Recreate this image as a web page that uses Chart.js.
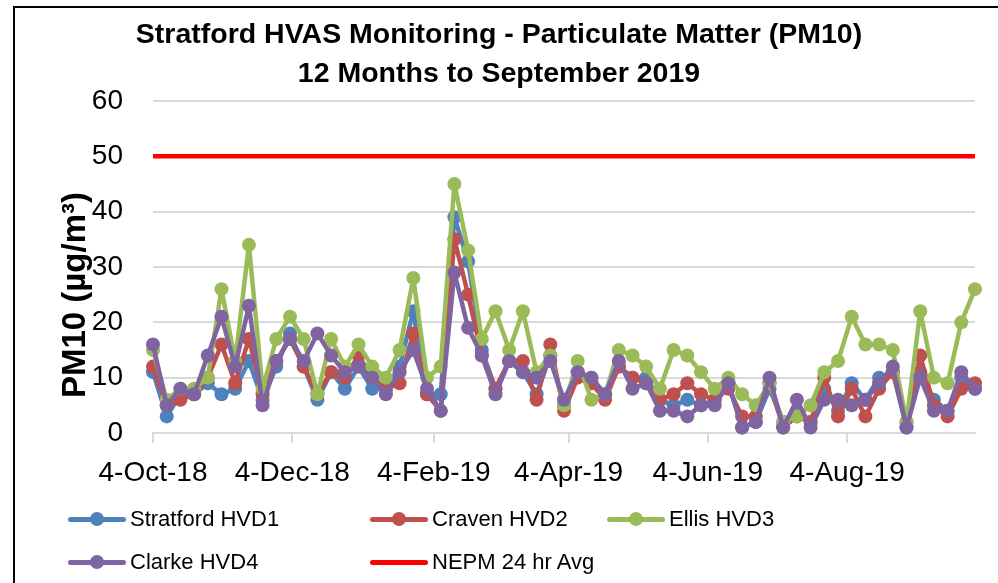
<!DOCTYPE html>
<html>
<head>
<meta charset="utf-8">
<script src="https://cdn.jsdelivr.net/npm/chart.js@4.4.1/dist/chart.umd.min.js"></script>
<style>
html,body{margin:0;padding:0;background:#fff;}
#wrap{position:relative;width:998px;height:583px;overflow:hidden;font-family:"Liberation Sans",Arial,sans-serif;color:#000;}
#frame{position:absolute;left:13px;top:6px;width:1000px;height:600px;border-left:2px solid #000;border-top:2px solid #000;box-sizing:border-box;}
#c{position:absolute;left:0;top:0;}
.title{position:absolute;left:0;width:998px;text-align:center;font-weight:bold;font-size:28.5px;line-height:32px;white-space:nowrap;}
#ytitle{position:absolute;left:74px;top:295px;transform:translate(-50%,-50%) rotate(-90deg);font-weight:bold;font-size:33px;white-space:nowrap;line-height:36px;}
.leg{position:absolute;height:30px;display:flex;align-items:center;font-size:22px;white-space:nowrap;}
.sw{position:relative;width:58px;height:30px;margin-right:4px;}
.sw .ln{position:absolute;left:0;right:0;top:13px;height:5px;border-radius:3px;}
.sw .dot{position:absolute;left:22px;top:8px;width:14px;height:14px;border-radius:50%;}
</style>
</head>
<body>
<div id="wrap">
  <canvas id="c" width="998" height="583"></canvas>
  <div id="frame"></div>
  <div class="title" style="top:17px">Stratford HVAS Monitoring - Particulate Matter (PM10)</div>
  <div class="title" style="top:56px">12 Months to September 2019</div>
  <div id="ytitle">PM10 (µg/m³)</div>
  <div id="legend"></div>
</div>
<script>
// ---- data ----
const sampleDates = [
  '2018-10-04','2018-10-10','2018-10-16','2018-10-22','2018-10-28','2018-11-03','2018-11-09','2018-11-15',
  '2018-11-21','2018-11-27','2018-12-03','2018-12-09','2018-12-15','2018-12-21','2018-12-27','2019-01-02',
  '2019-01-08','2019-01-14','2019-01-20','2019-01-26','2019-02-01','2019-02-07','2019-02-13','2019-02-19',
  '2019-02-25','2019-03-03','2019-03-09','2019-03-15','2019-03-21','2019-03-27','2019-04-02','2019-04-08',
  '2019-04-14','2019-04-20','2019-04-26','2019-05-02','2019-05-08','2019-05-14','2019-05-20','2019-05-26',
  '2019-06-01','2019-06-07','2019-06-13','2019-06-19','2019-06-25','2019-07-01','2019-07-07','2019-07-13',
  '2019-07-19','2019-07-25','2019-07-31','2019-08-06','2019-08-12','2019-08-18','2019-08-24','2019-08-30',
  '2019-09-05','2019-09-11','2019-09-17','2019-09-23','2019-09-29'
];
const stratfordHVD1 = [11,3,7,7,9,7,8,13,6,12,18,12,6,11,8,12,8,8,12,22,7,7,39,31,15,8,13,11,7,14,5,11,10,7,12,10,10,6,5,6,5,6,9,1,2,8,2,4,2,8,4,9,6,10,11,1,11,6,4,10,8];
const cravenHVD2    = [12,5,6,7,10,16,9,17,7,13,17,12,7,11,10,14,10,8,9,18,7,4,35,25,14,8,13,13,6,16,4,10,9,6,12,10,9,6,7,9,7,6,8,3,3,9,1,3,2,10,3,8,3,8,11,2,14,5,3,8,9];
const ellisHVD3     = [15,6,8,8,10,26,13,34,8,17,21,17,7,17,12,16,12,10,15,28,10,12,45,33,17,22,15,22,11,14,5,13,6,7,15,14,12,8,15,14,11,8,10,7,5,9,2,3,5,11,13,21,16,16,15,2,22,10,9,20,26];
const clarkeHVD4    = [16,5,8,7,14,21,12,23,5,13,17,13,18,14,11,12,10,7,11,15,8,4,29,19,14,7,13,11,10,13,6,11,10,7,13,8,9,4,4,3,5,5,9,1,2,10,1,6,1,6,6,5,6,9,12,1,10,4,4,11,8];
const nepmLimit = 50;
const axisStart = '2018-10-04';
const axisEnd   = '2019-09-29';
const tickDates  = ['2018-10-04','2018-12-04','2019-02-04','2019-04-04','2019-06-04','2019-08-04'];
const tickLabels = ['4-Oct-18','4-Dec-18','4-Feb-19','4-Apr-19','4-Jun-19','4-Aug-19'];
const seriesNames = ['Stratford HVD1','Craven HVD2','Ellis HVD3','Clarke HVD4','NEPM 24 hr Avg'];
const seriesColors = ['#4F81BD','#C0504D','#9BBB59','#8064A2','#FF0000'];

// ---- helpers ----
function dayNum(s){ return (Date.parse(s+'T00:00:00Z') - Date.parse(axisStart+'T00:00:00Z'))/86400000; }
const xs = sampleDates.map(dayNum);
function pts(vals){ return vals.map((v,i)=>({x:xs[i], y:v})); }
const FONT = '"Liberation Sans", Arial, sans-serif';

function series(idx, vals, order){
  return {
    label: seriesNames[idx], data: pts(vals), order: order, clip: false,
    borderColor: seriesColors[idx], backgroundColor: seriesColors[idx],
    borderWidth: 4.5, borderJoinStyle: 'round', borderCapStyle: 'round',
    pointRadius: 7, pointHoverRadius: 7,
    pointBackgroundColor: seriesColors[idx], pointBorderWidth: 0,
    tension: 0, fill: false
  };
}

new Chart(document.getElementById('c'), {
  type: 'line',
  data: {
    datasets: [
      series(0, stratfordHVD1, 4),
      series(1, cravenHVD2, 3),
      series(2, ellisHVD3, 2),
      series(3, clarkeHVD4, 1),
      {
        label: seriesNames[4], order: 0, clip: false,
        data: [{x: dayNum(axisStart), y: nepmLimit}, {x: dayNum(axisEnd), y: nepmLimit}],
        borderColor: seriesColors[4], backgroundColor: seriesColors[4],
        borderWidth: 4.5, pointRadius: 0, tension: 0, fill: false
      }
    ]
  },
  options: {
    responsive: false, animation: false,
    layout: { padding: { left: 0, top: 101, right: 23, bottom: 80 } },
    plugins: { legend: { display: false }, title: { display: false }, tooltip: { enabled: false } },
    scales: {
      x: {
        type: 'linear', min: dayNum(axisStart), max: dayNum(axisEnd),
        afterBuildTicks: s => { s.ticks = tickDates.map(d => ({ value: dayNum(d) })); },
        afterFit: s => { s.height = 70; },
        ticks: {
          autoSkip: false, maxRotation: 0, minRotation: 0, padding: 13,
          color: '#000', font: { family: FONT, size: 28 },
          callback: (v, i) => tickLabels[i]
        },
        grid: { drawOnChartArea: false, drawTicks: true, tickLength: 10, color: '#d9d9d9', lineWidth: 2 },
        border: { display: true, color: '#d9d9d9', width: 2 }
      },
      y: {
        min: 0, max: 60,
        afterFit: s => { s.width = 153; },
        ticks: { stepSize: 10, padding: 30, color: '#000', font: { family: FONT, size: 28 } },
        grid: { color: '#d9d9d9', lineWidth: 2, drawTicks: false },
        border: { display: false }
      }
    }
  }
});

// ---- legend ----
const legendPos = [
  {i:0, x:68,  y:519}, {i:1, x:370, y:519}, {i:2, x:607, y:519},
  {i:3, x:68,  y:562}, {i:4, x:370, y:562}
];
const lg = document.getElementById('legend');
legendPos.forEach(p => {
  const d = document.createElement('div');
  d.className = 'leg';
  d.style.left = p.x + 'px';
  d.style.top = (p.y - 15) + 'px';
  const sw = document.createElement('div'); sw.className = 'sw';
  const ln = document.createElement('div'); ln.className = 'ln'; ln.style.background = seriesColors[p.i];
  sw.appendChild(ln);
  if (p.i < 4) { const dot = document.createElement('div'); dot.className = 'dot'; dot.style.background = seriesColors[p.i]; sw.appendChild(dot); }
  d.appendChild(sw);
  const t = document.createElement('span'); t.textContent = seriesNames[p.i];
  d.appendChild(t);
  lg.appendChild(d);
});
</script>
</body>
</html>
